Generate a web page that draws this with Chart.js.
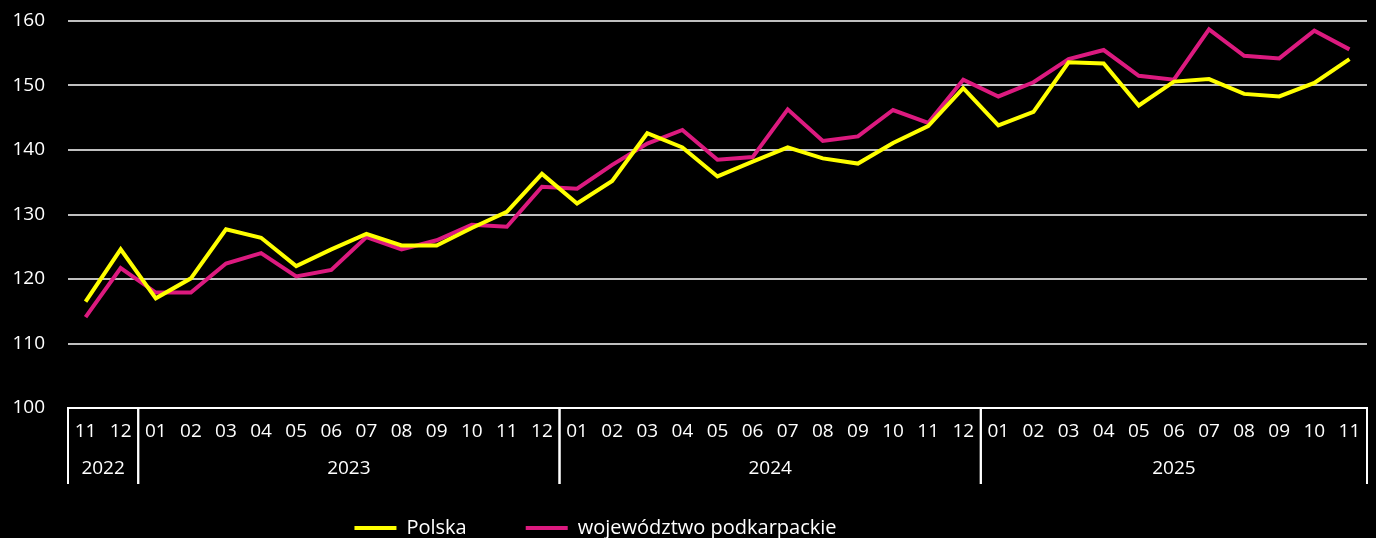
<!DOCTYPE html>
<html>
<head>
<meta charset="utf-8">
<script src="https://cdn.jsdelivr.net/npm/chart.js@4/dist/chart.umd.min.js"></script>
<style>
  html, body { margin: 0; padding: 0; background: #000; }
  #wrap { width: 1376px; height: 538px; }
</style>
</head>
<body>
<div id="wrap"><canvas id="myChart" width="1376" height="538"></canvas></div>
<script>
const months = ['11', '12',
    '01', '02', '03', '04', '05', '06', '07', '08', '09', '10', '11', '12',
    '01', '02', '03', '04', '05', '06', '07', '08', '09', '10', '11', '12',
    '01', '02', '03', '04', '05', '06', '07', '08', '09', '10', '11'];
// year groups: [label, first index, last index]
const years = [['2022', 0, 1], ['2023', 2, 13], ['2024', 14, 25], ['2025', 26, 36]];
const polska = [116.5, 124.6, 117.0, 120.1, 127.7, 126.4, 122.0, 124.6, 127.0, 125.2, 125.2, 127.9, 130.4, 136.3,
    131.7, 135.2, 142.6, 140.4, 135.9, 138.2, 140.4, 138.7, 137.9, 141.1, 143.7, 149.6,
    143.8, 145.9, 153.6, 153.4, 146.9, 150.6, 151.0, 148.7, 148.3, 150.4, 154.1];
const podkarpackie = [114.1, 121.7, 117.9, 117.9, 122.4, 124.0, 120.4, 121.4, 126.5, 124.6, 126.0, 128.4, 128.1, 134.3,
    134.0, 137.7, 141.0, 143.1, 138.5, 138.9, 146.3, 141.4, 142.1, 146.2, 144.2, 150.9,
    148.3, 150.5, 154.1, 155.5, 151.5, 150.9, 158.7, 154.6, 154.2, 158.5, 155.6];

const FONT = 'Open Sans';
const YELLOW = '#ffff00';
const PINK = '#dc1a7f';
const LEGEND_GAP = 59;

// year row + separators under the month labels, legend placement
const yearRows = {
    id: 'yearRows',
    afterInit(chart) {
        // wide gap between legend items, but keep the legend box short
        var lg = chart.legend;
        var fit = lg.fit.bind(lg);
        lg.fit = function () { fit(); this.height = 61; };
    },
    afterLayout(chart) {
        var lg = chart.legend;
        lg.left -= 176;
        // legend clips to its box, so only move the top edge up
        lg.top = 530 - LEGEND_GAP - 12;
        lg.bottom = chart.height;
    },
    afterDraw(chart) {
        var ctx = chart.ctx;
        var x = chart.scales.x;
        var top = chart.chartArea.bottom;
        var bottom = top + 76;
        var half = (x.getPixelForValue(1) - x.getPixelForValue(0)) / 2;
        ctx.save();
        ctx.strokeStyle = '#ffffff';
        ctx.lineWidth = 2;
        ctx.fillStyle = '#ffffff';
        ctx.font = '19px "' + FONT + '"';
        ctx.textAlign = 'center';
        ctx.textBaseline = 'middle';
        for (var y of years) {
            var l = x.getPixelForValue(y[1]) - half;
            var r = x.getPixelForValue(y[2]) + half;
            ctx.beginPath();
            ctx.moveTo(l, top); ctx.lineTo(l, bottom);
            ctx.moveTo(r, top); ctx.lineTo(r, bottom);
            ctx.stroke();
            ctx.fillText(y[0], (l + r) / 2, top + 61);
        }
        ctx.restore();
    }
};

new Chart(document.getElementById('myChart'), {
    type: 'line',
    data: {
        labels: months,
        datasets: [{
            label: 'Polska',
            data: polska,
            borderColor: YELLOW,
            backgroundColor: YELLOW,
            borderWidth: 4,
            pointRadius: 0,
            tension: 0
        }, {
            label: 'województwo podkarpackie',
            data: podkarpackie,
            borderColor: PINK,
            backgroundColor: PINK,
            borderWidth: 4,
            pointRadius: 0,
            tension: 0
        }]
    },
    options: {
        responsive: false,
        animation: false,
        layout: { padding: { top: 21, right: 9, left: 0, bottom: 0 } },
        plugins: {
            tooltip: { enabled: false },
            legend: {
                position: 'bottom',
                labels: {
                    color: '#ffffff',
                    font: { family: FONT, size: 20 },
                    usePointStyle: true,
                    pointStyle: 'line',
                    pointStyleWidth: 42,
                    padding: LEGEND_GAP
                }
            }
        },
        scales: {
            x: {
                offset: true,
                grid: { display: false, drawTicks: false },
                border: { display: true, color: '#ffffff', width: 2 },
                ticks: {
                    color: '#ffffff',
                    font: { family: FONT, size: 19 },
                    padding: 12,
                    maxRotation: 0,
                    autoSkip: false
                },
                afterFit(scale) { scale.height = 69; }
            },
            y: {
                min: 100,
                max: 160,
                grid: { color: '#bfbfbf', lineWidth: 2, drawTicks: false },
                border: { display: false },
                ticks: {
                    stepSize: 10,
                    color: '#ffffff',
                    font: { family: FONT, size: 19 },
                    padding: 23
                },
                afterFit(scale) {
                    scale.width = 68;
                    scale.paddingTop = 0;
                    scale.paddingBottom = 0;
                }
            }
        }
    },
    plugins: [yearRows]
});
</script>
</body>
</html>
